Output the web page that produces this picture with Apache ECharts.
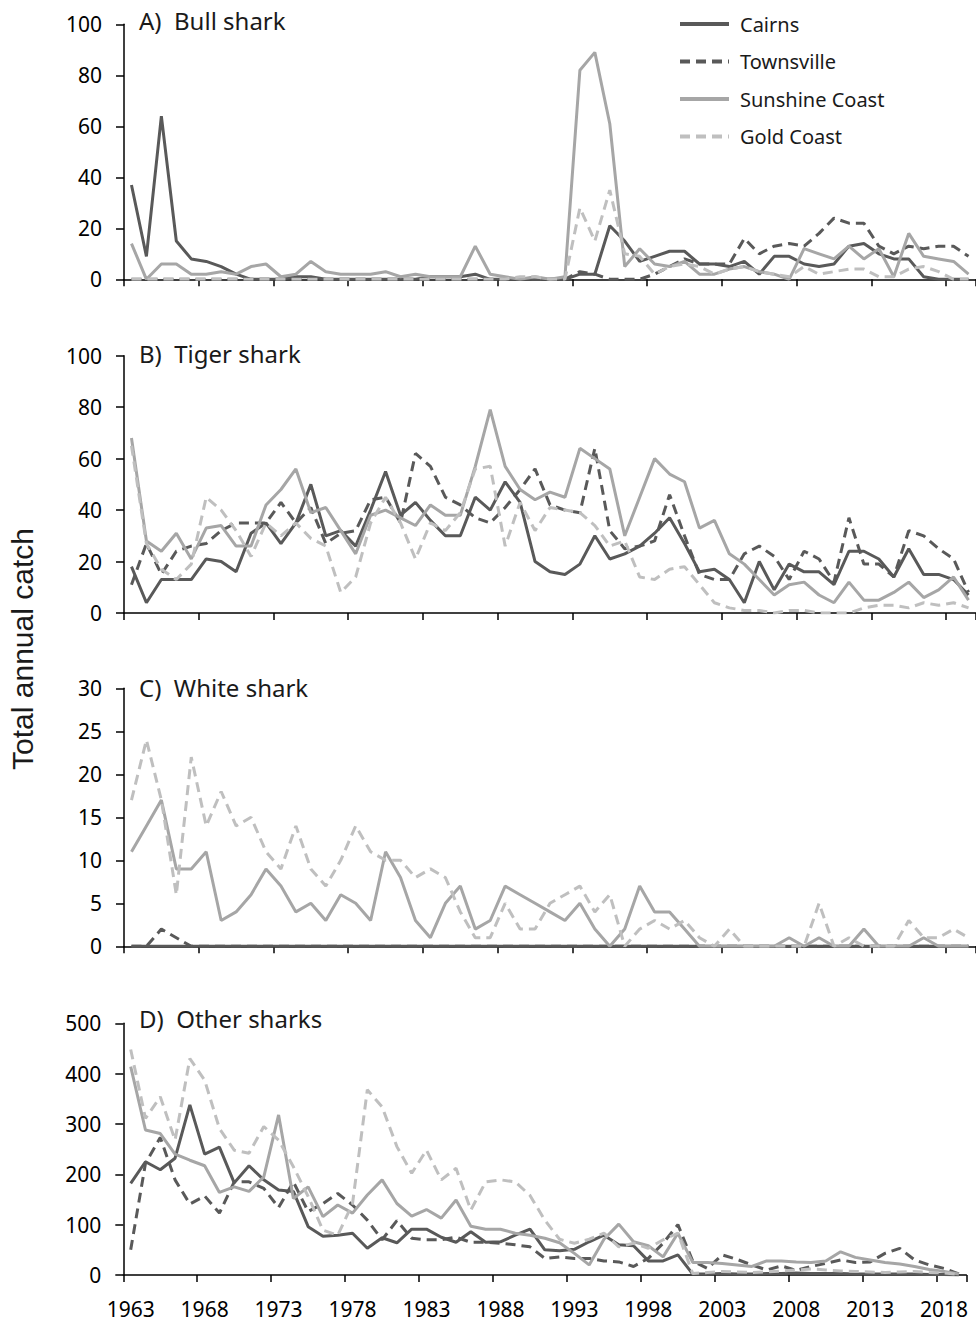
<!DOCTYPE html>
<html><head><meta charset="utf-8">
<script src="https://cdn.jsdelivr.net/npm/echarts@6/dist/echarts.min.js"></script>
<style>html,body{margin:0;padding:0;background:#fff}#c{width:976px;height:1322px}</style>
</head><body><div id="c"></div>
<script>
const years = ['1963','1964','1965','1966','1967','1968','1969','1970','1971','1972',
'1973','1974','1975','1976','1977','1978','1979','1980','1981','1982',
'1983','1984','1985','1986','1987','1988','1989','1990','1991','1992',
'1993','1994','1995','1996','1997','1998','1999','2000','2001','2002',
'2003','2004','2005','2006','2007','2008','2009','2010','2011','2012',
'2013','2014','2015','2016','2017','2018','2019'];

const locations = ['Cairns','Townsville','Sunshine Coast','Gold Coast'];
const panelTitles = ['A)  Bull shark','B)  Tiger shark','C)  White shark','D)  Other sharks'];

// A) Bull shark
const bullCairns = [37,9,64,15,8,7,5,2,0,0, 0,1,1,0,0,0,0,0,0,0, 1,1,1,2,0,0,0,0,0,0, 2,2,21,15,7,9,11,11,6,6, 5,7,2,9,9,6,5,6,13,14, 10,8,8,1,0,0,0];
const bullTownsville = [0,0,0,0,0,0,0,0,0,0, 0,0,0,0,0,0,0,0,0,0, 0,0,0,0,0,0,0,0,0,0, 3,2,0,0,0,2,5,8,6,6, 6,16,10,13,14,13,18,24,22,22, 13,10,13,12,13,13,9];
const bullSunshine = [14,0,6,6,2,2,3,2,5,6, 1,2,7,3,2,2,2,3,1,2, 1,1,1,13,2,1,0,1,0,1, 82,89,61,5,12,6,5,7,2,2, 4,5,3,2,0,12,10,8,13,8, 12,1,18,9,8,7,2];
const bullGold = [0,0,0,0,0,0,0,0,0,0, 0,0,0,0,0,0,0,0,0,0, 0,0,0,0,0,0,1,1,0,0, 28,15,35,10,9,2,5,6,5,2, 4,5,3,2,1,5,2,3,4,4, 1,1,4,5,3,0,0];

// B) Tiger shark
const tigerCairns = [18,4,13,13,13,21,20,16,31,35, 27,35,50,30,32,26,40,55,38,43, 36,30,30,45,40,51,43,20,16,15, 19,30,21,23,26,31,37,27,16,17, 13,4,20,9,19,16,16,11,24,24, 21,14,25,15,15,13,7];
const tigerTownsville = [11,27,15,24,26,27,32,35,35,35, 43,35,41,27,31,32,44,45,35,62, 57,45,42,37,35,41,48,56,42,40, 39,64,32,25,26,28,46,30,15,13, 13,23,26,22,13,24,21,12,37,19, 19,14,32,30,25,21,8];
const tigerSunshine = [68,28,24,31,21,33,34,26,26,42, 48,56,39,41,32,23,38,40,37,34, 42,38,38,57,79,57,48,44,47,45, 64,60,56,30,45,60,54,51,33,36, 23,19,13,7,11,12,7,4,12,5, 5,8,12,6,9,14,5];
const tigerGold = [65,27,17,13,19,45,40,32,22,35, 30,35,29,26,8,14,35,45,35,21, 35,32,39,56,57,26,43,32,41,40, 39,34,26,28,14,13,17,18,11,4, 2,1,1,0,1,1,0,0,0,2, 3,3,2,4,3,4,2];

// C) White shark
const whiteCairns = [0,0,0,0,0,0,0,0,0,0, 0,0,0,0,0,0,0,0,0,0, 0,0,0,0,0,0,0,0,0,0, 0,0,0,0,0,0,0,0,0,0, 0,0,0,0,0,0,0,0,0,0, 0,0,0,0,0,0,0];
const whiteTownsville = [0,0,2,1,0,0,0,0,0,0, 0,0,0,0,0,0,0,0,0,0, 0,0,0,0,0,0,0,0,0,0, 0,0,0,0,0,0,0,0,0,0, 0,0,0,0,0,0,0,0,0,0, 0,0,0,0,0,0,0];
const whiteSunshine = [11,14,17,9,9,11,3,4,6,9, 7,4,5,3,6,5,3,11,8,3, 1,5,7,2,3,7,6,5,4,3, 5,2,0,2,7,4,4,2,0,0, 0,0,0,0,1,0,1,0,0,2, 0,0,0,1,0,0,0];
const whiteGold = [17,24,17,6,22,14,18,14,15,11, 9,14,9,7,10,14,11,10,10,8, 9,8,4,1,1,5,2,2,5,6, 7,4,6,0,2,3,2,3,1,0, 2,0,0,0,0,0,5,0,1,0, 0,0,3,1,1,2,1];

// D) Other sharks
const otherCairns = [182,225,209,232,338,240,254,183,217,189, 169,166,96,77,79,83,53,74,64,91, 91,75,65,86,65,66,79,91,50,48, 51,66,79,60,58,28,28,40,2,2, 3,2,2,3,3,4,3,3,3,2, 2,2,2,2,1,1,0];
const otherTownsville = [50,222,273,189,141,157,123,185,185,172, 134,185,126,142,162,139,109,70,108,73, 70,70,75,65,65,63,60,56,33,36, 33,33,28,26,17,33,63,100,28,13, 40,31,20,10,18,9,17,23,30,25, 26,43,53,30,20,13,2];
const otherSunshine = [414,288,281,240,228,217,164,175,166,195, 318,152,175,116,139,123,159,189,142,117, 130,113,149,97,91,91,83,79,73,64, 43,20,71,101,66,58,36,83,25,25, 23,20,17,28,28,26,25,28,46,35, 30,25,22,17,11,7,2];
const otherGold = [448,311,354,268,430,387,291,248,242,295, 268,215,156,89,79,142,368,334,255,202, 248,189,212,129,185,189,185,158,109,71, 63,71,83,56,63,53,70,83,3,5, 7,6,5,6,8,10,12,10,8,7, 6,5,6,7,5,4,1];

const yMax = [100,100,30,500];
const yInterval = [20,20,5,100];
const panelData = [
  [bullCairns,bullTownsville,bullSunshine,bullGold],
  [tigerCairns,tigerTownsville,tigerSunshine,tigerGold],
  [whiteCairns,whiteTownsville,whiteSunshine,whiteGold],
  [otherCairns,otherTownsville,otherSunshine,otherGold]
];

// layout / style (kept apart from the data)
const gridBoxes = [
  {left:124, top:24.3, width:856, height:255},
  {left:124, top:355.7, width:856, height:257.3},
  {left:124, top:688.3, width:856, height:258},
  {left:123.3, top:1023.3, width:843, height:251.7}
];
const titleY = [20, 353.5, 687, 1018];
const styles = [
  {color:'#595959', type:'solid'},
  {color:'#595959', type:[10,6]},
  {color:'#a6a6a6', type:'solid'},
  {color:'#bfbfbf', type:[10,6]}
];
const FONT = '"Noto Sans", "Open Sans", sans-serif';
const axisCol = '#000';

const grid = [], xAxis = [], yAxis = [], series = [], graphic = [];
for (let p = 0; p < 4; p++) {
  grid.push(Object.assign({containLabel:false}, gridBoxes[p]));
  xAxis.push({
    type:'category', gridIndex:p, data:years, boundaryGap:true,
    axisLine:{show:true, onZero:false, lineStyle:{color:axisCol, width:1.5}},
    axisTick:{show:true, interval:4, length:7, inside:false, lineStyle:{color:axisCol, width:1.5}},
    axisLabel:{show:p===3, interval:4, fontSize:21, color:'#000', fontFamily:FONT, margin:23},
    splitLine:{show:false}
  });
  yAxis.push({
    type:'value', gridIndex:p, min:0, max:yMax[p], interval:yInterval[p],
    axisLine:{show:true, lineStyle:{color:axisCol, width:1.5}},
    axisTick:{show:true, length:8, lineStyle:{color:axisCol, width:1.5}},
    axisLabel:{fontSize:21, color:'#000', fontFamily:FONT, margin:22},
    splitLine:{show:false}
  });
  for (let s = 0; s < 4; s++) {
    series.push({
      type:'line', name:locations[s], xAxisIndex:p, yAxisIndex:p,
      data:panelData[p][s], symbol:'none', showSymbol:false, smooth:false,
      lineStyle:{color:styles[s].color, width:3, type:styles[s].type},
      itemStyle:{color:styles[s].color},
      emphasis:{disabled:true}, animation:false, z:2+s
    });
  }
  graphic.push({
    type:'text', x:139, y:titleY[p],
    style:{text:panelTitles[p], font:'24px ' + FONT, fill:'#1a1a1a', verticalAlign:'middle', align:'left'}
  });
}
graphic.push({
  type:'text', x:22.5, y:649, rotation:Math.PI/2,
  style:{text:'Total annual catch', font:'30px "Liberation Sans", Arial, sans-serif', fill:'#1a1a1a', align:'center', verticalAlign:'middle'}
});

const chart = echarts.init(document.getElementById('c'), null, {renderer:'svg'});
chart.setOption({
  animation:false,
  backgroundColor:'#fff',
  grid, xAxis, yAxis, series, graphic,
  legend:{
    data:locations, orient:'vertical', left:673, top:9,
    itemWidth:49, itemHeight:20, itemGap:17.5,
    lineStyle:{width:4},
    itemStyle:{opacity:0},
    textStyle:{fontSize:20, color:'#1a1a1a', fontFamily:FONT, lineHeight:20, padding:[0,0,0,6]},
    selectedMode:false
  }
});
</script>
</body></html>
